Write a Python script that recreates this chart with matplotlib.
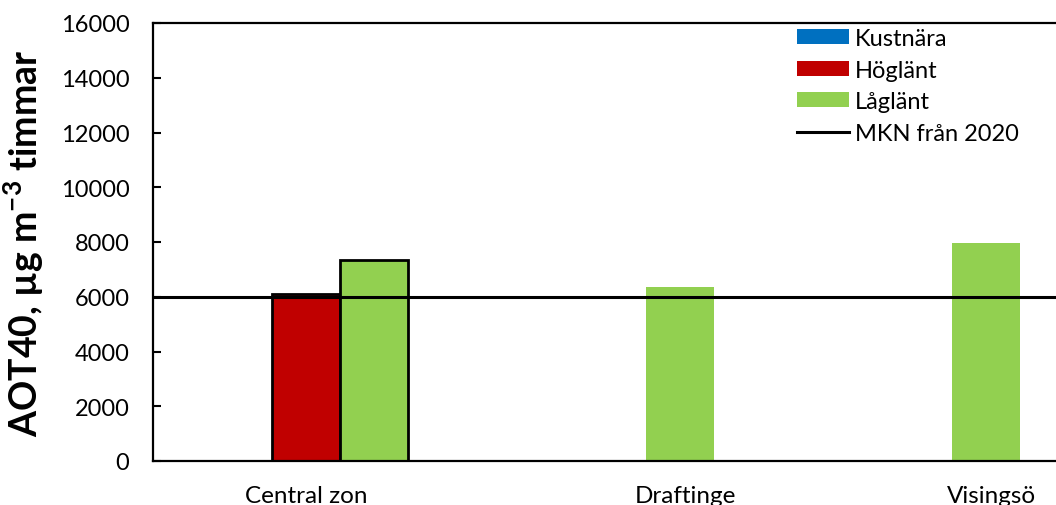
import matplotlib
matplotlib.use("Agg")
import matplotlib.pyplot as plt
from matplotlib.patches import Patch
from matplotlib.lines import Line2D
import numpy as np

sites = ["Central zon", "Draftinge", "Visingsö"]
kustnara = [np.nan, np.nan, np.nan]
hoglant = [6100, np.nan, np.nan]
laglant = [7350, 6350, 7950]
mkn = 6000
label_shift = [0.0, 0.24, 0.24]

series = [("Kustnära", kustnara, "#0070C0"),
          ("Höglänt", hoglant, "#C00000"),
          ("Låglänt", laglant, "#92D050")]
edges = ["black", "none", "none"]

plt.rcParams['font.family'] = ['Lato', 'DejaVu Sans']
plt.rcParams['mathtext.fontset'] = 'custom'
plt.rcParams['mathtext.bf'] = 'Lato:bold'
plt.rcParams['mathtext.rm'] = 'Lato'

fig = plt.figure(figsize=(10.56, 5.06), dpi=100)
ax = fig.add_axes([153/1056, 44/506, 918/1056, 438/506])

x = np.arange(len(sites))
w = 68/306
handles = []
for i, (name, vals, col) in enumerate(series):
    ax.bar(x + (i - 1)*w, vals, width=w, color=col, edgecolor=edges, linewidth=2)
    handles.append(Patch(facecolor=col, edgecolor="none", label=name))
ax.axhline(mkn, color="black", linewidth=2.2)
handles.append(Line2D([], [], color="black", linewidth=2.2, label="MKN från 2020"))

ax.set_xlim(-0.5, 2.5)
ax.set_ylim(0, 16000)
ax.set_yticks(np.arange(0, 16001, 2000))
ax.set_xticks(x + np.array(label_shift))
ax.set_xticklabels(sites)
ax.tick_params(axis="y", direction="in", length=6, width=1.5, labelsize=17, pad=17)
ax.tick_params(axis="x", length=0, labelsize=17.5, pad=17)
for s in ax.spines.values():
    s.set_linewidth(1.6)

ax.set_ylabel("AOT40, µg m$^{\\mathbf{-3}}$ timmar", fontsize=27, fontweight="bold")
ax.yaxis.set_label_coords(-0.117, 0.5)

ax.legend(handles=handles, loc="upper left", bbox_to_anchor=(797/1056, 1 - 29/506),
          bbox_transform=fig.transFigure, frameon=False, fontsize=17,
          handlelength=2.2, handleheight=0.6, handletextpad=0.25,
          labelspacing=0.45, borderpad=0, borderaxespad=0)

fig.savefig("out.png", dpi=100)
